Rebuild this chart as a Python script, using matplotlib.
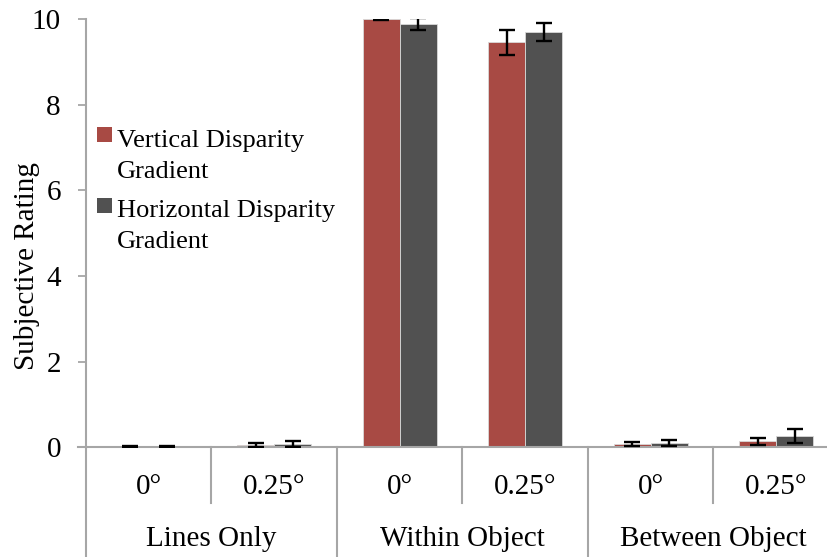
import matplotlib
matplotlib.use("Agg")
import matplotlib.pyplot as plt
import matplotlib.transforms as mtransforms
from matplotlib.patches import Rectangle
import numpy as np

plt.rcParams['font.family'] = ['Liberation Serif', 'DejaVu Serif']

tick_labels = ["0°", "0.25°", "0°", "0.25°", "0°", "0.25°"]
groups = ["Lines Only", "Within Object", "Between Object"]
series_names = ["Vertical Disparity\nGradient", "Horizontal Disparity\nGradient"]
vertical = [0.01, 0.06, 10.0, 9.46, 0.08, 0.14]
vertical_err = [0.01, 0.05, 0.02, 0.29, 0.055, 0.08]
horizontal = [0.02, 0.08, 9.88, 9.69, 0.10, 0.26]
horizontal_err = [0.01, 0.07, 0.14, 0.21, 0.08, 0.16]
yticks = [0, 2, 4, 6, 8, 10]

RED = "#A84A44"
GRAY = "#515151"
AX = "#A6A6A6"
FS = 21

W, H = 828, 557
fig = plt.figure(figsize=(W / 100, H / 100), dpi=100)
left_px, right_px, top_px, base_px = 86, 839, 19, 447.3
ax = fig.add_axes([left_px / W, 1 - base_px / H, (right_px - left_px) / W, (base_px - top_px) / H])

x = np.arange(len(tick_labels))
bw = 0.295
ax.bar(x - bw / 2, vertical, bw, color=RED, edgecolor="#D9D9D9", linewidth=0.6, zorder=2)
ax.bar(x + bw / 2, horizontal, bw, color=GRAY, edgecolor="#D9D9D9", linewidth=0.6, zorder=2)
ax.errorbar(x - bw / 2, vertical, yerr=vertical_err, fmt="none", ecolor="black",
            elinewidth=1.7, capsize=5.5, capthick=1.7, zorder=3)
ax.errorbar(x + bw / 2, horizontal, yerr=horizontal_err, fmt="none", ecolor="black",
            elinewidth=1.7, capsize=5.5, capthick=1.7, zorder=3)

ax.set_xlim(-0.5, len(tick_labels) - 0.5)
ax.set_ylim(0, 10)
ax.set_yticks(yticks)
ax.set_yticklabels([str(v) for v in yticks], fontsize=FS)
ax.tick_params(axis="y", length=6, width=1.3, color=AX, pad=12)
ax.set_xticks([])
for s in ["top", "right", "left"]:
    ax.spines[s].set_visible(False)
ax.spines["bottom"].set_color(AX)
ax.spines["bottom"].set_linewidth(1.5)

ah = base_px - top_px
trans = mtransforms.blended_transform_factory(ax.transData, ax.transAxes)
bottom_ax = -(H - base_px) / ah
short_ax = -(503 - base_px) / ah
# left axis line
ax.plot([-0.5, -0.5], [1.0, bottom_ax], transform=trans, color=AX, lw=1.5, clip_on=False)
# x-axis extension to left (tick)
ax.plot([-0.5 - 8 / 125.5, -0.5], [0, 0], transform=trans, color=AX, lw=1.5, clip_on=False)
for i in range(1, len(tick_labels)):
    pos = i - 0.5
    yb = bottom_ax if i % 2 == 0 else short_ax
    ax.plot([pos, pos], [0, yb], transform=trans, color=AX, lw=1.5, clip_on=False)

for i, lab in enumerate(tick_labels):
    ax.text(i, -(487 - base_px) / ah, lab, transform=trans, ha="center", va="center", fontsize=FS)
for g, name in enumerate(groups):
    ax.text(2 * g + 0.5, -(539 - base_px) / ah, name, transform=trans, ha="center", va="center", fontsize=FS)

fig.text(27 / W, 1 - 266 / H, "Subjective Rating", rotation=90, ha="center", va="center", fontsize=FS)

# legend
for k, (name, col) in enumerate(zip(series_names, [RED, GRAY])):
    yc = 134 + k * 71
    fig.patches.append(Rectangle((97 / W, 1 - (yc + 7.5) / H), 15 / W, 15 / H,
                                 transform=fig.transFigure, facecolor=col, edgecolor="none"))
    for j, line in enumerate(name.split("\n")):
        base = 147 + k * 70 + j * 31
        fig.text(117 / W, 1 - base / H, line, ha="left", va="baseline", fontsize=19)

fig.savefig("out.png", dpi=100)
